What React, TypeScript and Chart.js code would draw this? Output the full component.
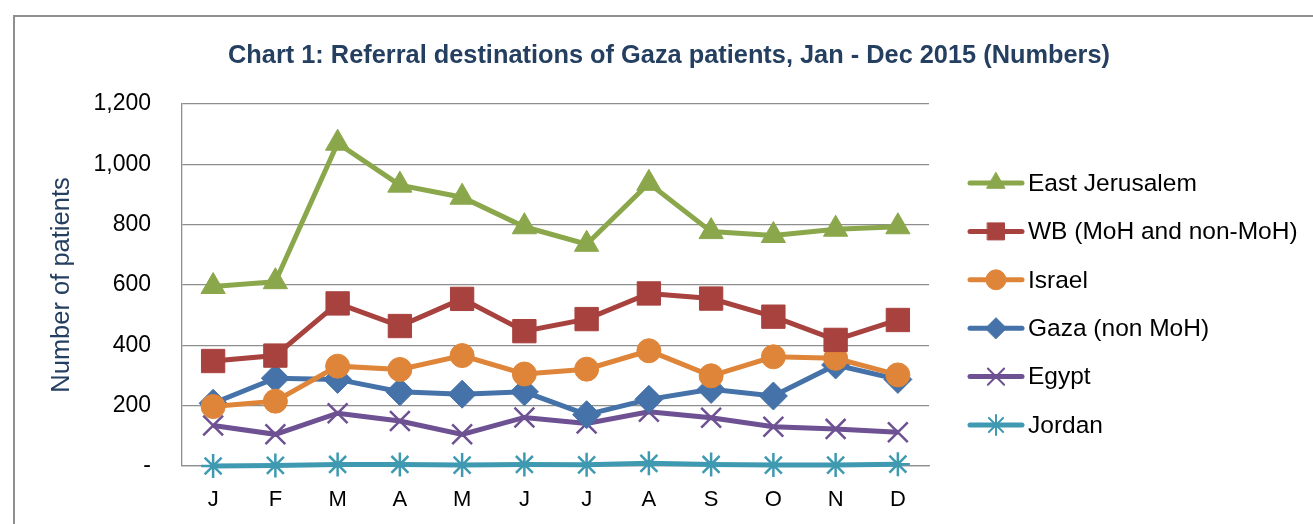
import React, { useEffect, useRef } from 'react';
import { Chart, registerables } from 'chart.js';
import { drawPoint } from 'chart.js/helpers';

Chart.register(...registerables);

const TITLE = 'Chart 1: Referral destinations of Gaza patients, Jan - Dec 2015 (Numbers)';
const Y_TITLE = 'Number of patients';

const months = ['J', 'F', 'M', 'A', 'M', 'J', 'J', 'A', 'S', 'O', 'N', 'D'];
const eastJerusalem = [595, 611, 1070, 931, 891, 793, 735, 937, 777, 764, 785, 793];
const westBank = [348, 366, 539, 464, 554, 447, 487, 572, 555, 495, 418, 484];
const israel = [197, 215, 331, 320, 366, 305, 321, 382, 299, 362, 357, 302];
const gaza = [208, 291, 287, 246, 238, 246, 170, 221, 254, 232, 335, 287];
const egypt = [134, 105, 175, 149, 105, 161, 141, 180, 160, 130, 123, 112];
const jordan = [0, 2, 5, 5, 3, 5, 4, 9, 5, 3, 3, 6];

const seriesNames = ['East Jerusalem', 'WB (MoH and non-MoH)', 'Israel', 'Gaza (non MoH)', 'Egypt', 'Jordan'];
const seriesValues = [eastJerusalem, westBank, israel, gaza, egypt, jordan];
const seriesColors = ['#8BA74B', '#A8423F', '#DF8539', '#4572A8', '#6D5192', '#3F9AB1'];
const seriesMarkers = ['triangle', 'rect', 'circle', 'rectRot', 'crossRot', 'star'];
const markerRadius = [14, 16.5, 12, 14, 14, 12];
const legendRadius = [10.5, 12, 10, 10.5, 11.5, 10];

const yTickValues = [0, 200, 400, 600, 800, 1000, 1200];
const yTickLabels = ['-', '200', '400', '600', '800', '1,000', '1,200'];

const FONT = '"Liberation Sans", Arial, sans-serif';

const overlayPlugin = {
  id: 'overlayTitleLegend',
  afterDraw(chart: any) {
    const ctx = chart.ctx;
    ctx.save();
    ctx.fillStyle = '#243F60';
    ctx.font = `bold 25.5px ${FONT}`;
    ctx.textAlign = 'center';
    ctx.textBaseline = 'middle';
    ctx.fillText(TITLE, 669, 56, 882);

    chart.data.datasets.forEach((ds: any, i: number) => {
      const y = 183 + 48.4 * i;
      ctx.strokeStyle = ds.borderColor;
      ctx.lineWidth = 5;
      ctx.lineCap = 'round';
      ctx.beginPath();
      ctx.moveTo(970, y);
      ctx.lineTo(1022, y);
      ctx.stroke();
      const thin = ds.pointStyle === 'crossRot' || ds.pointStyle === 'star';
      ctx.fillStyle = ds.borderColor;
      ctx.strokeStyle = ds.borderColor;
      ctx.lineWidth = thin ? 2 : 1;
      drawPoint(ctx, { pointStyle: ds.pointStyle, radius: legendRadius[i], rotation: 0, borderWidth: ctx.lineWidth }, 996, y);
      ctx.fillStyle = '#000';
      ctx.font = `24.5px ${FONT}`;
      ctx.textAlign = 'left';
      ctx.textBaseline = 'middle';
      ctx.fillText(ds.label, 1028, y + 1);
    });
    ctx.restore();
  },
};

export default function App() {
  const canvasRef = useRef<HTMLCanvasElement | null>(null);

  useEffect(() => {
    if (!canvasRef.current) return;
    const datasets = seriesNames.map((name, i) => {
      const thin = seriesMarkers[i] === 'crossRot' || seriesMarkers[i] === 'star';
      return {
        label: name,
        data: seriesValues[i],
        borderColor: seriesColors[i],
        backgroundColor: seriesColors[i],
        borderWidth: 5,
        pointStyle: seriesMarkers[i],
        pointRadius: markerRadius[i],
        pointBorderWidth: thin ? 2.5 : 1,
        pointBackgroundColor: seriesColors[i],
        pointBorderColor: seriesColors[i],
        tension: 0,
        fill: false,
        clip: false,
      };
    });
    const chart = new Chart(canvasRef.current, {
      type: 'line',
      data: { labels: months, datasets },
      plugins: [overlayPlugin],
      options: {
        animation: false,
        responsive: true,
        maintainAspectRatio: false,
        layout: { padding: { top: 104, right: 384, left: 0, bottom: 0 } },
        plugins: {
          legend: { display: false },
          title: { display: false },
          tooltip: { enabled: false },
        },
        scales: {
          x: {
            offset: true,
            grid: { display: false, drawTicks: false },
            border: { display: true, color: '#8E8E8E', width: 1.3 },
            ticks: { color: '#000', font: { family: FONT, size: 22 }, padding: 21, autoSkip: false, maxRotation: 0 },
            afterFit: (s: any) => { s.height = 58; },
          },
          y: {
            min: 0,
            max: 1200,
            afterBuildTicks: (s: any) => { s.ticks = yTickValues.map((v) => ({ value: v })); },
            grid: { color: '#8E8E8E', lineWidth: 1.3, drawTicks: false },
            border: { display: true, color: '#8E8E8E', width: 1.3 },
            ticks: {
              color: '#000',
              font: { family: FONT, size: 23 },
              padding: 31,
              callback: (v: any) => {
                const idx = yTickValues.indexOf(Number(v));
                return idx >= 0 ? yTickLabels[idx] : '';
              },
            },
            title: {
              display: true,
              text: Y_TITLE,
              color: '#243F60',
              font: { family: FONT, size: 25.5 },
              padding: { top: 47, bottom: 0 },
            },
            afterFit: (s: any) => { s.width = 182; },
          },
        },
      },
    } as any);
    return () => chart.destroy();
  }, []);

  return (
    <div style={{ position: 'fixed', left: 0, top: 0, width: 1313, height: 524, background: '#fff', overflow: 'hidden' }}>
      <div style={{ position: 'absolute', left: 13, top: 15, width: 1400, height: 600, border: '2px solid #8F8F8F', boxSizing: 'border-box' }} />
      <canvas ref={canvasRef} style={{ position: 'absolute', left: 0, top: 0, width: 1313, height: 524 }} />
    </div>
  );
}
